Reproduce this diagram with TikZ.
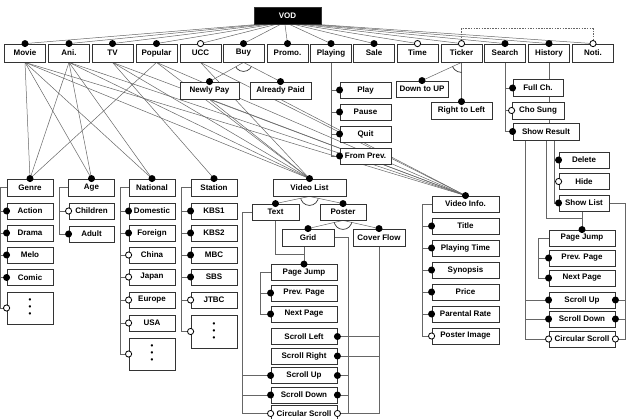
\documentclass[tikz,border=0pt]{standalone}
\usepackage{fontspec}
\setmainfont{Liberation Sans}
\usetikzlibrary{calc}
\pgfdeclarelayer{bg}
\pgfsetlayers{bg,main}
\newcommand\altarc[4]{\begin{scope}\clip (#1) -- ($(#1)!60pt!(#2)$) -- ($(#1)!60pt!(#3)$) -- cycle; \draw[line width=0.7pt,black!80] (#1) circle (#4);\end{scope}}
\newcommand\mydots{\begin{tabular}{@{}c@{}}•\\[-2.5pt]•\\[-2.5pt]•\end{tabular}}
\begin{document}
\begin{tikzpicture}[x=1pt,y=-1pt,
 box/.style={draw=black!80,line width=0.85pt,fill=white,inner sep=0pt,minimum height=16pt,font=\fontsize{8}{9.5}\selectfont\bfseries},
 conn/.style={draw=black!60,line width=0.5pt},
 fdot/.style={fill=black},
 odot/.style={draw=black,fill=white,line width=0.8pt}]
\useasboundingbox (0,0) rectangle (628,419);
% ---------- nodes ----------
\node[box,fill=black,text=white,minimum width=67pt,minimum height=17pt] (vod) at (287.5,15.5) {VOD};
\foreach \n/\t/\x in {movie/Movie/25, ani/Ani./69, tv/TV/112.5, popular/Popular/156.5, ucc/UCC/200.5, buy/Buy/243.5, promo/Promo./287.5, playing/Playing/331, sale/Sale/374, time/Time/417.5, ticker/Ticker/461.5, search/Search/505, history/History/549, noti/Noti./593}
  \node[box,minimum width=41pt,minimum height=18pt] (\n) at (\x,53) {\t};
\node[box,minimum width=59pt,minimum height=17pt] (newly) at (209.5,90.5) {Newly Pay};
\node[box,minimum width=61pt,minimum height=17pt] (already) at (280.5,90.5) {Already Paid};
\foreach \n/\t/\y in {play/Play/90, pause/Pause/112, quit/Quit/134, fromprev/From Prev./156}
  \node[box,minimum width=51pt] (\n) at (365.5,\y) {\t};
\node[box,minimum width=52pt] (down) at (422,89) {Down to UP};
\node[box,minimum width=61pt,minimum height=17pt] (rtl) at (461.5,110.5) {Right to Left};
\node[box,minimum width=50pt,minimum height=17pt] (fullch) at (538,88) {Full Ch.};
\node[box,minimum width=52pt,minimum height=17pt] (chosung) at (538,110.5) {Cho Sung};
\node[box,minimum width=66pt,minimum height=17pt] (showresult) at (546,131.5) {Show Result};
\foreach \n/\t/\y in {delete/Delete/160, hide/Hide/181.5, showlist/Show List/203}
  \node[box,minimum width=50pt] (\n) at (584,\y) {\t};
\foreach \n/\t/\y in {rpj/Page Jump/238, rprev/Prev. Page/258, rnext/Next Page/278, rsup/Scroll Up/300, rsdown/Scroll Down/319, rcirc/Circular Scroll/339}
  \node[box,minimum width=66pt] (\n) at (582,\y) {\t};
\foreach \n/\t/\y in {vinfo/Video Info./204, title/Title/226, ptime/Playing Time/248, synopsis/Synopsis/270, price/Price/292, parental/Parental Rate/314, posterimg/Poster Image/336}
  \node[box,minimum width=67pt] (\n) at (465.5,\y) {\t};
\node[box,minimum width=73pt,minimum height=17pt] (vlist) at (309.5,187.5) {Video List};
\node[box,minimum width=47pt] (text) at (275.5,212) {Text};
\node[box,minimum width=46pt] (poster) at (343,212) {Poster};
\node[box,minimum width=52pt,minimum height=17pt] (grid) at (308,237.5) {Grid};
\node[box,minimum width=52pt,minimum height=17pt] (cover) at (379,237.5) {Cover Flow};
\foreach \n/\t/\y in {cpj/Page Jump/272.5, cprev/Prev. Page/293, cnext/Next Page/314, csleft/Scroll Left/336.5, csright/Scroll Right/356, csup/Scroll Up/375.5, csdown/Scroll Down/395, ccirc/Circular Scroll/413.5}
  \node[box,minimum width=66pt] (\n) at (304,\y) {\t};
% left panel
\foreach \n/\t/\x in {genre/Genre/30, age/Age/91.5, national/National/152, station/Station/214}
  \node[box,minimum width=46pt,minimum height=17pt] (\n) at (\x,187.5) {\t};
\foreach \n/\t/\y in {action/Action/211, drama/Drama/233, melo/Melo/255, comic/Comic/277.5}
  \node[box,minimum width=46pt] (\n) at (30,\y) {\t};
\node[box,minimum width=46pt,minimum height=32pt] (gdots) at (30,308) {\mydots};
\node[box,minimum width=45pt] (children) at (91.5,211) {Children};
\node[box,minimum width=45pt] (adult) at (91.5,234) {Adult};
\foreach \n/\t/\y in {domestic/Domestic/211, foreign/Foreign/233, china/China/255, japan/Japan/277, europe/Europe/300, usa/USA/323}
  \node[box,minimum width=46pt] (\n) at (152,\y) {\t};
\node[box,minimum width=46pt,minimum height=32pt] (ndots) at (152,354) {\mydots};
\foreach \n/\t/\y in {kbs1/KBS1/211, kbs2/KBS2/233, mbc/MBC/255, sbs/SBS/277, jtbc/JTBC/300}
  \node[box,minimum width=46pt] (\n) at (214,\y) {\t};
\node[box,minimum width=46pt,minimum height=33pt] (sdots) at (214,331.5) {\mydots};
% helper coordinates
\coordinate (gl) at ([xshift=-6pt]genre.west);
\coordinate (al) at ([xshift=-9pt]age.west);
\coordinate (nl) at ([xshift=-8pt]national.west);
\coordinate (stl) at ([xshift=-9pt]station.west);
\coordinate (vl) at ([xshift=-9pt]vinfo.west);
\coordinate (tl) at ([xshift=-9pt]text.west);
\coordinate (gr) at ([xshift=14pt]grid.east);
\coordinate (cl) at ([xshift=-10pt]cpj.west);
\coordinate (cj) at ([yshift=10pt]cpj.north);
\coordinate (rl) at ([xshift=-10pt]rpj.west);
\coordinate (rj) at ([yshift=11pt]rpj.north);
\coordinate (srA) at ([xshift=-21pt]showresult.south);
\coordinate (srC) at ([xshift=8pt]showresult.south);
\coordinate (slr) at ([xshift=16pt]showlist.east);
\coordinate (dashT) at ([yshift=15pt]ticker.north);
% ---------- connectors ----------
\begin{pgfonlayer}{bg}
\foreach \n [count=\i from 0] in {movie,ani,tv,popular,ucc,buy,promo,playing,sale,time,ticker,search,history,noti}
  \draw[conn] ($(vod.south west)!{(4+\i*4.5)/67}!(vod.south east)$) -- (\n.north);
\foreach \s/\d in {movie/genre, movie/age, movie/national, movie/vlist, movie/vinfo, ani/genre, ani/age, ani/national, ani/vlist, ani/vinfo, tv/station, tv/vlist, tv/vinfo, popular/genre, popular/vlist, popular/vinfo, ucc/vlist, ucc/vinfo, newly/vlist, newly/vinfo, already/vinfo}
  \draw[conn] (\s.south) -- (\d.north);
\draw[conn] (buy.south) -- (newly.north);
\draw[conn] (buy.south) -- (already.north);
\draw[conn] (ticker.south) -- (down.north);
\draw[conn] (ticker.south) -- (rtl.north);
\draw[conn] (vlist.south) -- (text.north);
\draw[conn] (vlist.south) -- (poster.north);
\draw[conn] (poster.south) -- (grid.north);
\draw[conn] (poster.south) -- (cover.north);
\draw[conn,dash pattern=on 1.5pt off 1.2pt] (ticker.north) -- (dashT) -| (noti.north);
% playing
\draw[conn] (playing.south) |- (fromprev.west);
\foreach \c in {play,pause,quit} \draw[conn] (playing.south |- \c.west) -- (\c.west);
% search / history
\draw[conn] (search.south) |- (showresult.west);
\foreach \c in {fullch,chosung} \draw[conn] (search.south |- \c.west) -- (\c.west);
\draw[conn] (history.south) -- (history.south |- showresult.north);
% show result
\draw[conn] (srC) |- (showlist.west);
\foreach \c in {delete,hide} \draw[conn] (srC |- \c.west) -- (\c.west);
\draw[conn] (showresult.south) |- (rj);
\draw[conn] (rpj.north |- showlist.south) -- (rpj.north);
\draw[conn] (srA) |- (rcirc.west);
\foreach \c in {rsup,rsdown} \draw[conn] (srA |- \c.west) -- (\c.west);
\draw[conn] (showlist.east) -- (slr) |- (rcirc.east);
\foreach \c in {rsup,rsdown} \draw[conn] (slr |- \c.east) -- (\c.east);
\draw[conn] (rpj.west) -- (rl) |- (rnext.west);
\draw[conn] (rl |- rprev.west) -- (rprev.west);
% video info
\draw[conn] (vinfo.west) -- (vl) |- (posterimg.west);
\foreach \c in {title,ptime,synopsis,price,parental} \draw[conn] (vl |- \c.west) -- (\c.west);
% center panel
\draw[conn] (text.south) |- (cj);
\draw[conn] (cpj.north |- grid.south) -- (cpj.north);
\draw[conn] (cpj.west) -- (cl) |- (cnext.west);
\draw[conn] (cl |- cprev.west) -- (cprev.west);
\draw[conn] (text.west) -- (tl) |- (ccirc.west);
\foreach \c in {csup,csdown} \draw[conn] (tl |- \c.west) -- (\c.west);
\draw[conn] (grid.east) -- (gr) |- (ccirc.east);
\foreach \c in {csup,csdown} \draw[conn] (gr |- \c.east) -- (\c.east);
\draw[conn] (cover.south) |- (ccirc.east);
\foreach \c in {csleft,csright} \draw[conn] (cover.south |- \c.east) -- (\c.east);
% left panel
\draw[conn] (genre.west) -- (gl) |- (gdots.west);
\foreach \c in {action,drama,melo,comic} \draw[conn] (gl |- \c.west) -- (\c.west);
\draw[conn] (age.west) -- (al) |- (adult.west);
\draw[conn] (al |- children.west) -- (children.west);
\draw[conn] (national.west) -- (nl) |- (ndots.west);
\foreach \c in {domestic,foreign,china,japan,europe,usa} \draw[conn] (nl |- \c.west) -- (\c.west);
\draw[conn] (station.west) -- (stl) |- (sdots.west);
\foreach \c in {kbs1,kbs2,mbc,sbs,jtbc} \draw[conn] (stl |- \c.west) -- (\c.west);
\end{pgfonlayer}
% ---------- alternative arcs ----------
\altarc{buy.south}{newly.north}{already.north}{9pt}
\altarc{ticker.south}{down.north}{rtl.north}{10pt}
\altarc{vlist.south}{text.north}{poster.north}{9pt}
\altarc{poster.south}{grid.north}{cover.north}{9pt}
% ---------- dots ----------
\foreach \p in {movie.north,ani.north,tv.north,popular.north,buy.north,promo.north,playing.north,sale.north,search.north,history.north,
  newly.north,already.north,down.north,rtl.north,
  play.west,pause.west,quit.west,fromprev.west,fullch.west,showresult.west,delete.west,showlist.west,
  rpj.north,rprev.west,rnext.west,rsup.west,rsup.east,rsdown.west,rsdown.east,
  vinfo.north,title.west,ptime.west,synopsis.west,price.west,parental.west,
  vlist.north,text.north,poster.north,grid.north,cover.north,
  cpj.north,cprev.west,cnext.west,csleft.east,csright.east,csup.west,csup.east,csdown.west,csdown.east,
  genre.north,age.north,national.north,station.north,
  action.west,drama.west,melo.west,comic.west,adult.west,domestic.west,foreign.west,
  kbs1.west,kbs2.west,mbc.west,sbs.west}
  \fill[fdot] (\p) circle (3.5pt);
\foreach \p in {ucc.north,time.north,ticker.north,noti.north,chosung.west,hide.west,rcirc.west,rcirc.east,posterimg.west,
  ccirc.west,ccirc.east,gdots.west,children.west,china.west,japan.west,europe.west,usa.west,ndots.west,jtbc.west,sdots.west}
  \draw[odot] (\p) circle (3.1pt);
\end{tikzpicture}
\end{document}
